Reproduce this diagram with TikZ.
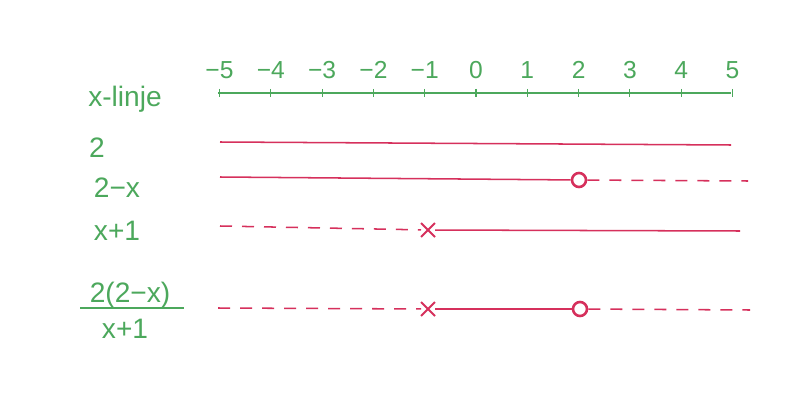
\documentclass[tikz,border=0pt]{standalone}
\usepackage{fontspec}
\setmainfont{Liberation Sans}
\usetikzlibrary{positioning, shapes.misc}
\definecolor{pengreen}{RGB}{76,168,92}
\definecolor{penred}{RGB}{214,48,92}

\begin{document}
\begin{tikzpicture}[
    x=0.03cm, y=-0.03cm,
    axis/.style={draw=pengreen, line width=1.4pt},
    lbl/.style={text=pengreen, font=\fontsize{24}{28}\selectfont, inner sep=1pt},
    num/.style={text=pengreen, font=\fontsize{21}{24}\selectfont, inner sep=1pt},
    posline/.style={draw=penred, line width=1.3pt},
    negline/.style={draw=penred, line width=1.3pt, dash pattern=on 0.36cm off 0.3cm},
    zero/.style={circle, draw=penred, line width=2.2pt, minimum size=0.42cm, inner sep=0pt},
    undef/.style={cross out, draw=penred, line width=1.7pt, minimum size=0.36cm, inner sep=0pt},
]
\useasboundingbox (0,0) rectangle (795,397);
\fill[white] (0,0) rectangle (795,397);
% x-axis with ticks and numbers
\node[lbl] (xl) at (125,99) {x-linje};
\coordinate (xmin) at (218,93);
\coordinate (xmax) at (731,93);
\draw[axis] (xmin) -- (xmax);
\foreach \v [count=\i] in {-5,...,5} {
  \coordinate (tick\i) at ({476+51.3*\v},93);
  \draw[axis, line width=1pt] (tick\i) ++(0,-4) -- ++(0,8);
  \node[num, above=11pt of tick\i] (n\i) {\ifnum\v<0 −\the\numexpr-\v\relax\else\v\fi};
}
% row: 2
\node[lbl] (r1) at (97,148) {2};
\coordinate (a1) at (220,142);
\coordinate (b1) at (731,145);
\draw[posline] (a1) -- (b1);
% row: 2-x
\node[lbl] (r2) at (117,188) {2−x};
\coordinate (a2) at (220,177);
\node[zero] (z2) at (579,180) {};
\coordinate (b2) at (748,181);
\draw[posline] (a2) -- (z2);
\draw[negline] (z2) -- (b2);
% row: x+1
\node[lbl] (r3) at (117,231) {x+1};
\coordinate (a3) at (220,226);
\node[undef] (u3) at (428,230) {};
\coordinate (b3) at (740,231);
\draw[negline] (a3) -- (u3);
\draw[posline] (u3) -- (b3);
% row: 2(2-x)/(x+1)
\node[lbl] (r4t) at (130,295) {2(2−x)};
\node[lbl] (r4b) at (125,329) {x+1};
\coordinate (barl) at (80,308);
\coordinate (barr) at (184,308);
\draw[axis] (barl) -- (barr);
\coordinate (a4) at (218,308);
\node[undef] (u4) at (428,309) {};
\node[zero] (z4) at (580,309) {};
\coordinate (b4) at (750,310);
\draw[negline] (a4) -- (u4);
\draw[posline] (u4) -- (z4);
\draw[negline] (z4) -- (b4);
\end{tikzpicture}
\end{document}
